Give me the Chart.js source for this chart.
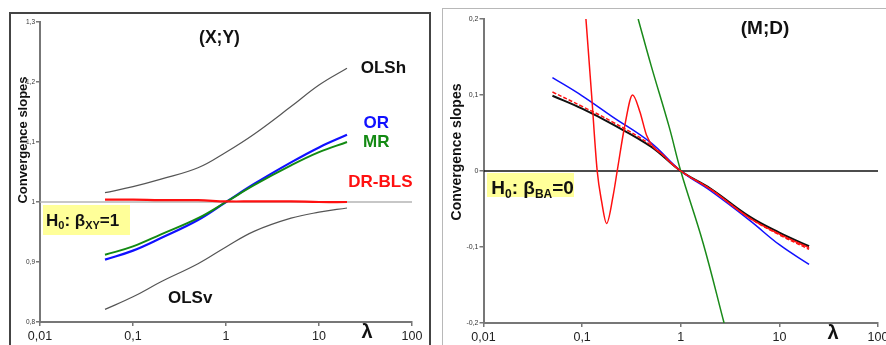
<!DOCTYPE html>
<html>
<head>
<meta charset="utf-8">
<script src="https://cdn.jsdelivr.net/npm/chart.js@4.4.1/dist/chart.umd.min.js"></script>
<style>
  body { margin: 0; background: #fff; }
  #wrap { position: relative; width: 886px; height: 345px; overflow: hidden; }
  .frameL { position: absolute; left: 9px; top: 12px; width: 418px; height: 360px; border: 2px solid #444; }
  .frameR { position: absolute; left: 442px; top: 8px; width: 460px; height: 360px; border-left: 1.5px solid #b8b8b8; border-top: 1.5px solid #b8b8b8; }
  .pane { position: absolute; top: 0; width: 443px; height: 345px; }
</style>
</head>
<body>
<div id="wrap">
  <div class="frameL"></div>
  <div class="frameR"></div>
  <div class="pane" style="left:0"><canvas id="chartXY" width="443" height="345"></canvas></div>
  <div class="pane" style="left:443px"><canvas id="chartMD" width="443" height="345"></canvas></div>
</div>
<script>
// --- data ---
const xTicks = [0.01, 0.1, 1, 10, 100];
const yTicksXY = [0.8, 0.9, 1.0, 1.1, 1.2, 1.3];
const yTicksMD = [-0.2, -0.1, 0, 0.1, 0.2];

// panel (X;Y)
const lambdaXY = [0.05, 0.1, 0.2, 0.5, 1, 2, 5, 10, 20];
const olsh  = [1.0155, 1.0255, 1.038, 1.057, 1.083, 1.113, 1.159, 1.195, 1.223];
const olsv  = [0.821, 0.842, 0.867, 0.897, 0.925, 0.951, 0.973, 0.983, 0.990];
const orXY  = [0.904, 0.919, 0.940, 0.970, 1.000, 1.030, 1.066, 1.091, 1.112];
const mrXY  = [0.912, 0.926, 0.946, 0.973, 1.000, 1.028, 1.061, 1.083, 1.100];
const drbls = [1.004, 1.004, 1.003, 1.003, 1.001, 1.001, 1.001, 1.000, 1.000];
const h0XY = 1;

// panel (M;D)
const lambdaMD = [0.05, 0.1, 0.2, 0.5, 1, 2, 5, 10, 20];
const blackMD  = [0.099, 0.082, 0.062, 0.032, 0, -0.023, -0.060, -0.081, -0.099];
const dashedMD = [0.104, 0.085, 0.065, 0.034, 0, -0.024, -0.062, -0.084, -0.103];
const blueMD   = [0.123, 0.099, 0.072, 0.037, 0, -0.026, -0.065, -0.097, -0.123];
const lambdaRed = [0.1093, 0.1248, 0.1422, 0.1576, 0.177, 0.2065, 0.2268, 0.2715, 0.3249, 0.385, 0.45, 0.525, 0.663, 0.775, 1, 2, 5, 10, 20];
const redMD     = [0.2, 0.1, 0, -0.040, -0.069, -0.032, 0, 0.0605, 0.100, 0.078, 0.047, 0.032, 0.021, 0.012, 0, -0.024, -0.062, -0.083, -0.101];
const lambdaGreen = [0.37, 0.5, 0.763, 1, 1.687, 2.75];
const greenMD     = [0.2, 0.139, 0.058, 0, -0.095, -0.2];
const h0MD = 0;

const FONT = '"Liberation Sans", Arial, sans-serif';

function pts(xs, ys) {
    return xs.map((x, i) => ({ x: x, y: ys[i] }));
}

function fmt(v) {
    return String(Math.round(v * 1000) / 1000).replace('.', ',');
}

function line(data, color, width, extra) {
    return Object.assign({
        data: data,
        borderColor: color,
        borderWidth: width,
        pointRadius: 0,
        fill: false,
        tension: 0.4
    }, extra || {});
}

// texte "H0: β..=.." avec indices
function drawRich(ctx, x, y, parts, size, subSize) {
    parts.forEach(p => {
        ctx.font = `bold ${p.sub ? subSize : size}px ${FONT}`;
        ctx.fillText(p.t, x, p.sub ? y + size * 0.2 : y);
        x += ctx.measureText(p.t).width;
    });
}

const annotate = {
    id: 'annotate',
    afterDatasetsDraw(chart, args, o) {
        const ctx = chart.ctx;
        const xs = chart.scales.x, ys = chart.scales.y;
        ctx.save();
        ctx.fillStyle = '#111';
        ctx.textAlign = 'center';
        ctx.textBaseline = 'middle';

        // titre du panneau
        ctx.font = `bold ${o.title.size}px ${FONT}`;
        ctx.fillText(o.title.text, o.title.x, o.title.y);

        // lambda
        ctx.font = `bold ${o.lambda.size}px ${FONT}`;
        ctx.fillText('λ', o.lambda.x, o.lambda.y);

        // étiquettes des courbes
        (o.labels || []).forEach(l => {
            ctx.font = `bold ${o.labelSize}px ${FONT}`;
            ctx.fillStyle = l.color;
            ctx.fillText(l.text, xs.getPixelForValue(l.at[0]), ys.getPixelForValue(l.at[1]));
        });

        // titre axe y
        ctx.fillStyle = '#111';
        ctx.save();
        ctx.translate(o.yTitle.x, o.yTitle.y);
        ctx.rotate(-Math.PI / 2);
        ctx.font = `bold ${o.yTitle.size}px ${FONT}`;
        ctx.fillText(o.yTitle.text, 0, 0);
        ctx.restore();

        // boîte H0
        const b = o.box;
        ctx.fillStyle = '#ffff99';
        ctx.fillRect(b.x, b.y, b.w, b.h);
        ctx.fillStyle = '#111';
        ctx.textAlign = 'left';
        ctx.textBaseline = 'alphabetic';
        drawRich(ctx, b.tx, b.ty, b.parts, b.size, b.sub);
        ctx.restore();
    }
};

function makeChart(canvasId, cfg) {
    const ctx = document.getElementById(canvasId).getContext('2d');
    return new Chart(ctx, {
        type: 'line',
        data: { datasets: cfg.datasets },
        options: {
            responsive: false,
            animation: false,
            events: [],
            layout: { padding: cfg.padding },
            plugins: {
                legend: { display: false },
                tooltip: { enabled: false },
                annotate: cfg.notes
            },
            scales: {
                x: {
                    type: 'logarithmic',
                    min: 0.01,
                    max: 100,
                    afterBuildTicks: s => { s.ticks = xTicks.map(v => ({ value: v })); },
                    afterFit: s => { s.height = cfg.xAxisHeight; s.paddingLeft = 0; s.paddingRight = 0; },
                    ticks: { callback: v => fmt(v), color: '#222', padding: 3, maxRotation: 0, autoSkip: false,
                             font: { family: FONT, size: 12.5 } },
                    grid: { drawOnChartArea: false, drawTicks: true, tickLength: 4, color: '#777', lineWidth: 1.5 },
                    border: { display: true, color: '#777', width: 2 }
                },
                y: {
                    type: 'linear',
                    min: cfg.yTicks[0],
                    max: cfg.yTicks[cfg.yTicks.length - 1],
                    afterBuildTicks: s => { s.ticks = cfg.yTicks.map(v => ({ value: v })); },
                    afterFit: s => { s.width = cfg.yAxisWidth; },
                    ticks: { callback: v => fmt(v), color: '#333', padding: 1,
                             font: { family: FONT, size: cfg.yTickSize } },
                    grid: { drawOnChartArea: false, drawTicks: true, tickLength: 4, color: '#777', lineWidth: 1.5 },
                    border: { display: true, color: '#777', width: 2 }
                }
            }
        },
        plugins: [annotate]
    });
}

// --- panneau gauche (X;Y) ---
makeChart('chartXY', {
    padding: { left: 0, right: 31, top: 22, bottom: 0 },
    yAxisWidth: 40,
    xAxisHeight: 23,
    yTicks: yTicksXY,
    yTickSize: 6.5,
    datasets: [
        line(pts(lambdaXY, drbls), '#ff1010', 2.2),
        line(pts(lambdaXY, mrXY), '#138a13', 2),
        line(pts(lambdaXY, orXY), '#1010ff', 2.2),
        line(pts(lambdaXY, olsh), '#555', 1.2),
        line(pts(lambdaXY, olsv), '#555', 1.2),
        line(pts([0.01, 100], [h0XY, h0XY]), '#b4b4b4', 1.5)
    ],
    notes: {
        title: { text: '(X;Y)', x: 219.5, y: 38.5, size: 17.5 },
        yTitle: { text: 'Convergence slopes', x: 23, y: 140, size: 13 },
        lambda: { x: 367, y: 332, size: 20 },
        labelSize: 17,
        labels: [
            { text: 'OLSh', color: '#111', at: [49.2, 1.2228] },
            { text: 'OR', color: '#1010ff', at: [41.2, 1.1315] },
            { text: 'MR', color: '#138a13', at: [41.2, 1.1003] },
            { text: 'DR-BLS', color: '#ff1010', at: [45.7, 1.0331] },
            { text: 'OLSv', color: '#111', at: [0.412, 0.8395] }
        ],
        box: { x: 43, y: 205, w: 87, h: 30, tx: 46, ty: 226, size: 17, sub: 11,
               parts: [{ t: 'H' }, { t: '0', sub: true }, { t: ': β' }, { t: 'XY', sub: true }, { t: '=1' }] }
    }
});

// --- panneau droit (M;D) ---
makeChart('chartMD', {
    padding: { left: 0, right: 8, top: 19, bottom: 0 },
    yAxisWidth: 40.5,
    xAxisHeight: 22,
    yTicks: yTicksMD,
    yTickSize: 7,
    datasets: [
        line(pts(lambdaRed, redMD), '#ff1010', 1.5, { cubicInterpolationMode: 'monotone' }),
        line(pts(lambdaGreen, greenMD), '#1a8a1a', 1.5),
        line(pts(lambdaMD, dashedMD), '#ff1010', 1.5, { borderDash: [4, 2] }),
        line(pts(lambdaMD, blueMD), '#1010ff', 1.5),
        line(pts(lambdaMD, blackMD), '#111', 2),
        line(pts([0.01, 100], [h0MD, h0MD]), '#111', 1.5)
    ],
    notes: {
        title: { text: '(M;D)', x: 322, y: 28.5, size: 19 },
        yTitle: { text: 'Convergence slopes', x: 14.5, y: 152, size: 14 },
        lambda: { x: 390, y: 333, size: 20 },
        labelSize: 17,
        labels: [],
        box: { x: 44, y: 173, w: 87, h: 24, tx: 48.3, ty: 194, size: 19, sub: 12,
               parts: [{ t: 'H' }, { t: '0', sub: true }, { t: ': β' }, { t: 'BA', sub: true }, { t: '=0' }] }
    }
});
</script>
</body>
</html>
